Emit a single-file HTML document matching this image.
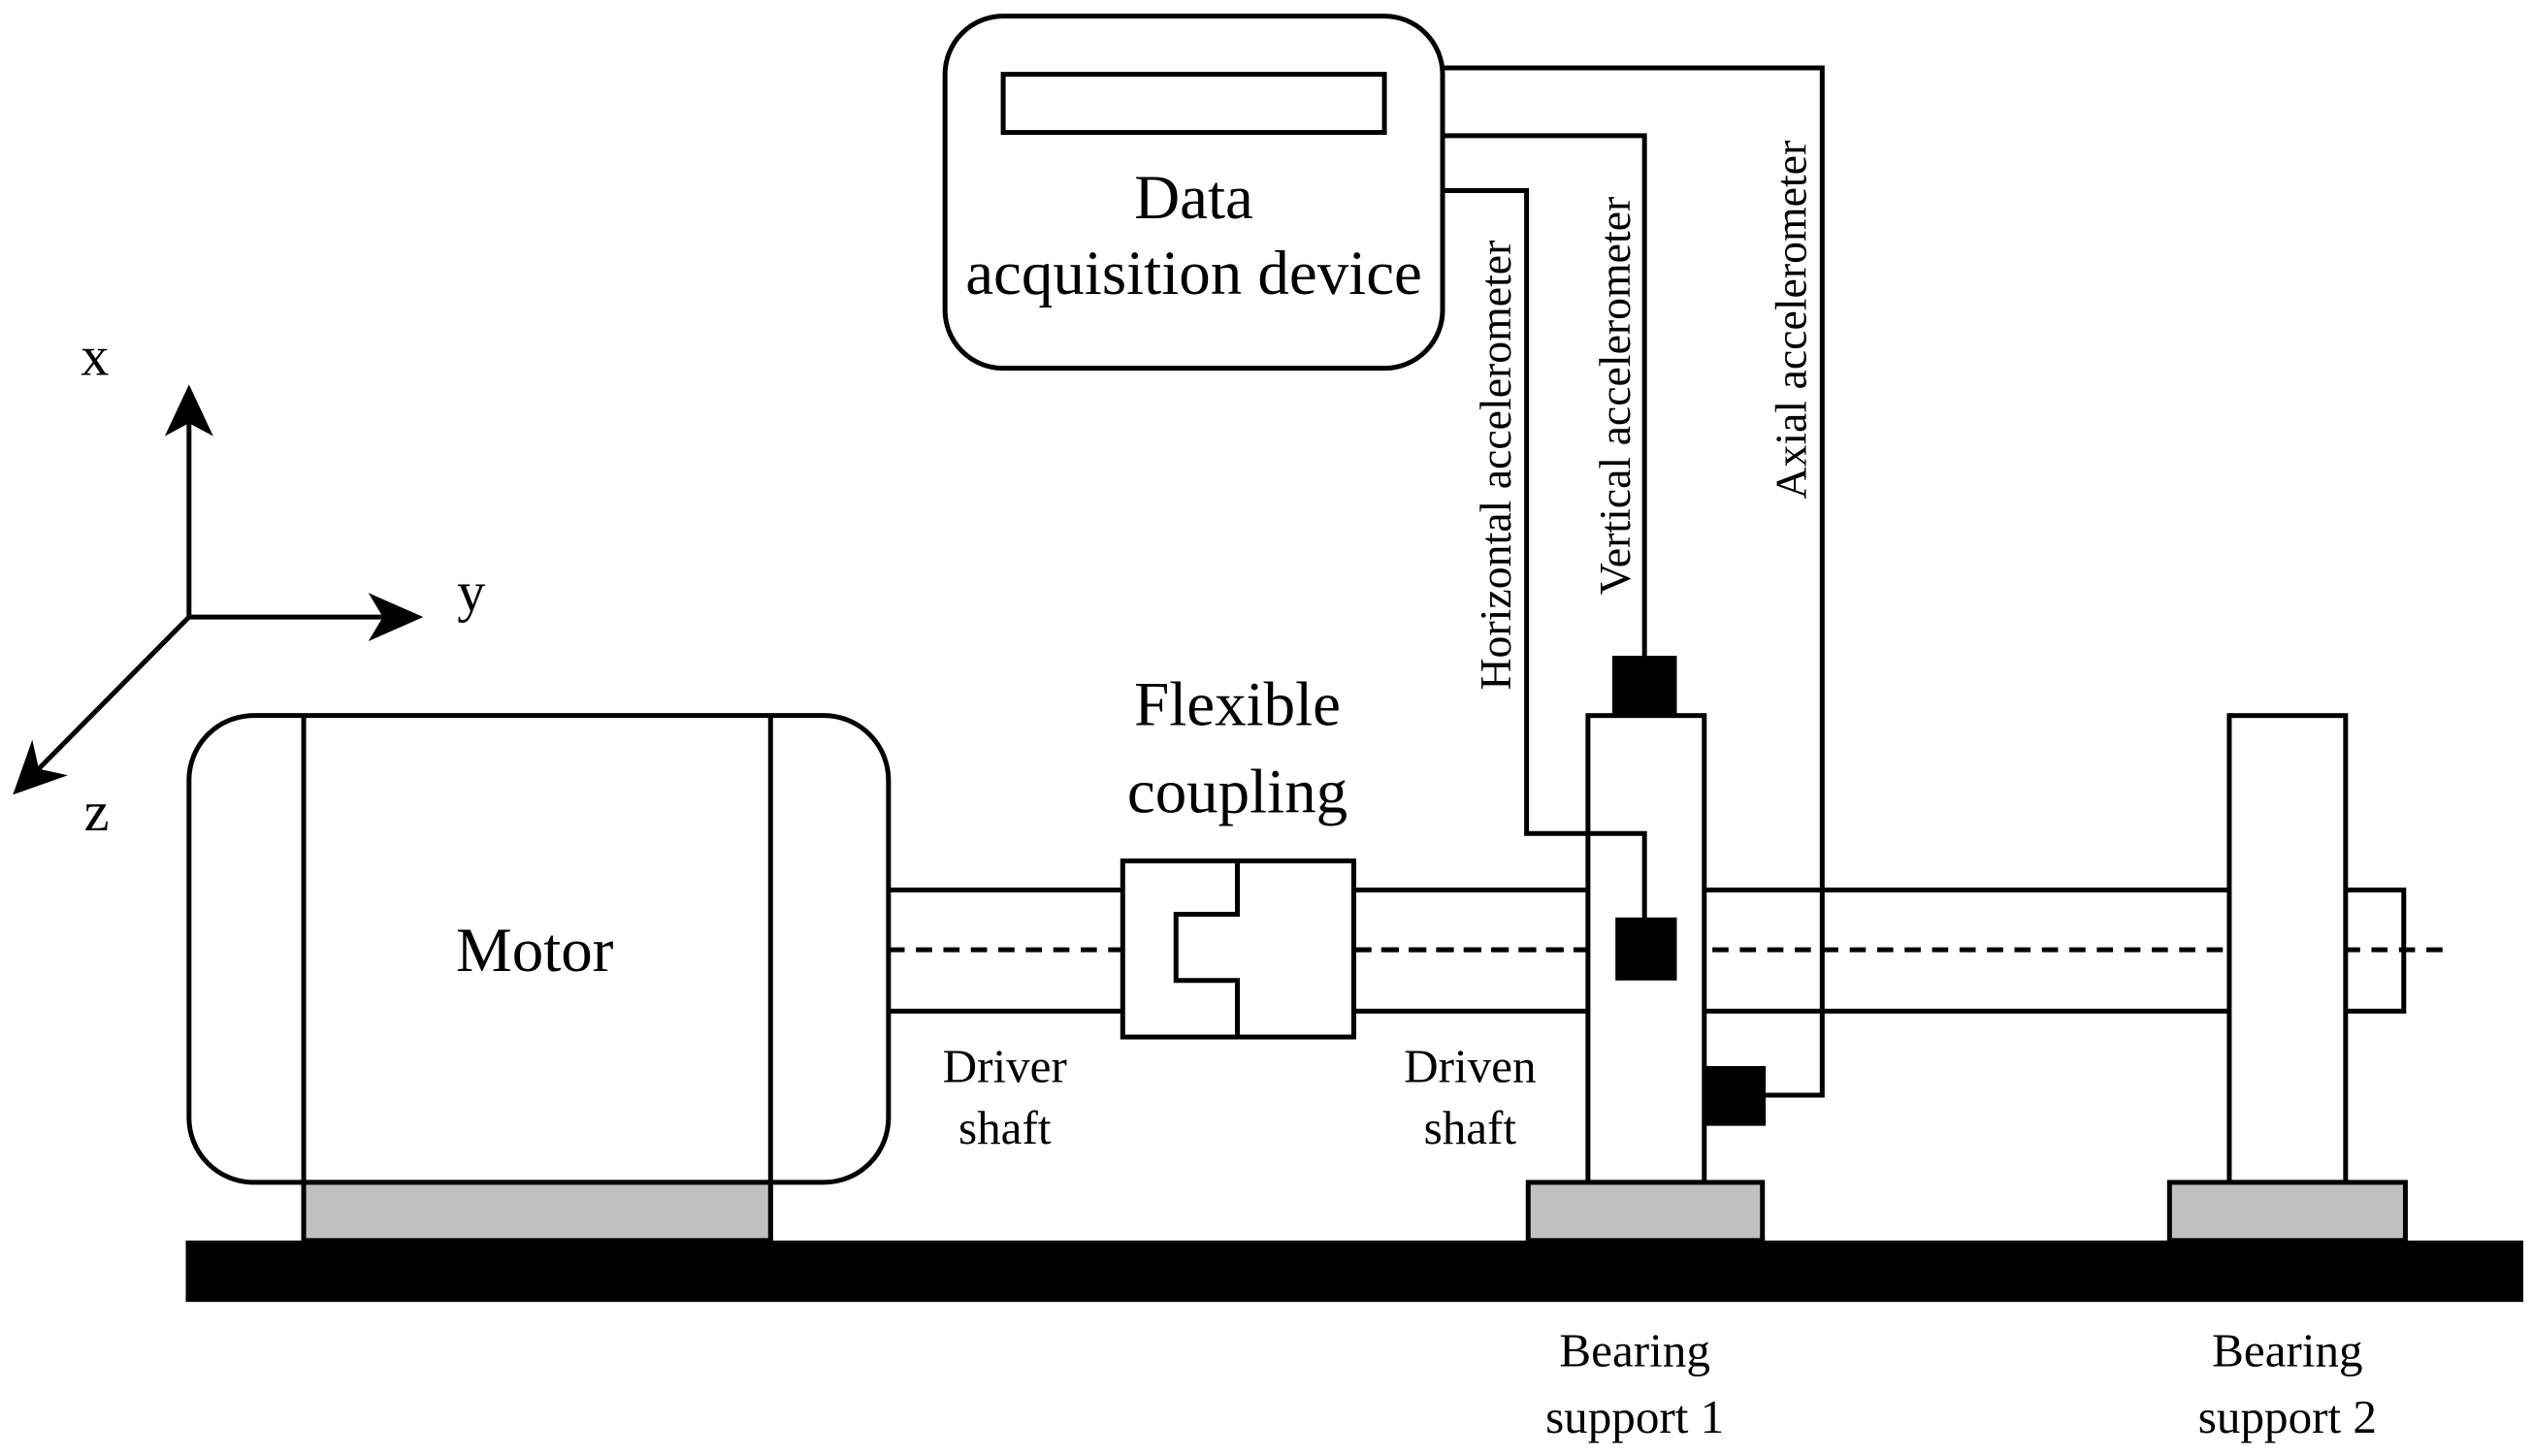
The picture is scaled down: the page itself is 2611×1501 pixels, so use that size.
<!DOCTYPE html>
<html><head><meta charset="utf-8"><style>
html,body{margin:0;padding:0;background:#fff;}
svg{display:block;}
text{font-family:"Liberation Serif",serif;fill:#000;}
</style></head><body>
<svg width="2611" height="1501" viewBox="0 0 1568 901.4" xmlns="http://www.w3.org/2000/svg">
<g stroke="#000" stroke-width="3" fill="none">
<rect x="585" y="10" width="308" height="218" rx="36" fill="#fff"/>
<rect x="621" y="46" width="236" height="36"/>
<line x1="117" y1="382" x2="117" y2="245"/>
<path d="M117,238 L102,270 L117,262 L132,270 Z" fill="#000" stroke="none"/>
<line x1="117" y1="382" x2="252" y2="382"/>
<path d="M262,382 L228,367 L237,382 L228,397 Z" fill="#000" stroke="none"/>
<line x1="117" y1="382" x2="16" y2="484"/>
<path d="M8,492 L20,458 L24,476 L42,480 Z" fill="#000" stroke="none"/>
<line x1="550" y1="551" x2="695" y2="551"/>
<line x1="550" y1="626" x2="695" y2="626"/>
<path d="M838,551 L1488,551 L1488,626 L838,626"/>
<line x1="550" y1="588" x2="1515" y2="588" stroke-dasharray="10,7"/>
<rect x="695" y="533" width="143" height="109" fill="#fff"/>
<path d="M766,533 L766,566 L728,566 L728,607 L766,607 L766,642"/>
<line x1="838" y1="588" x2="990" y2="588" stroke-dasharray="10,7"/>
<rect x="117" y="443" width="433" height="289" rx="40" fill="#fff"/>
<line x1="188" y1="443" x2="188" y2="768"/>
<line x1="477" y1="443" x2="477" y2="768"/>
<rect x="188" y="732" width="289" height="36" fill="#c0c0c0"/>
<rect x="983" y="443" width="72" height="289" fill="#fff"/>
<rect x="946" y="732" width="145" height="36" fill="#c0c0c0"/>
<rect x="1380" y="443" width="72" height="289" fill="#fff"/>
<rect x="1343" y="732" width="146" height="36" fill="#c0c0c0"/>
<path d="M1018,406 L1018,84 L893,84"/>
<path d="M893,118 L945,118 L945,516 L1018,516 L1018,568"/>
<path d="M893,42 L1128,42 L1128,678 L1093,678"/>
</g>
<rect x="115" y="768" width="1447" height="38" fill="#000"/>
<rect x="998" y="406" width="40" height="37" fill="#000"/>
<rect x="1000" y="568" width="38" height="39" fill="#000"/>
<rect x="1055" y="660" width="38" height="37" fill="#000"/>
<g font-size="39" text-anchor="middle">
<text x="739" y="135">Data</text>
<text x="739" y="182">acquisition device</text>
<text x="331" y="601">Motor</text>
<text x="766" y="449">Flexible</text>
<text x="766" y="503">coupling</text>
</g>
<g font-size="35">
<text x="50" y="232">x</text>
<text x="283" y="378">y</text>
<text x="52" y="514">z</text>
</g>
<g font-size="29.5" text-anchor="middle">
<text x="622" y="670">Driver</text>
<text x="622" y="708">shaft</text>
<text x="910" y="670">Driven</text>
<text x="910" y="708">shaft</text>
<text x="1012" y="846">Bearing</text>
<text x="1012" y="887">support 1</text>
<text x="1416" y="846">Bearing</text>
<text x="1416" y="887">support 2</text>
</g>
<g font-size="27.5" text-anchor="middle">
<text transform="translate(935,288) rotate(-90)">Horizontal accelerometer</text>
<text transform="translate(1009,245) rotate(-90)">Vertical accelerometer</text>
<text transform="translate(1118,198) rotate(-90)">Axial accelerometer</text>
</g>
</svg>
</body></html>
